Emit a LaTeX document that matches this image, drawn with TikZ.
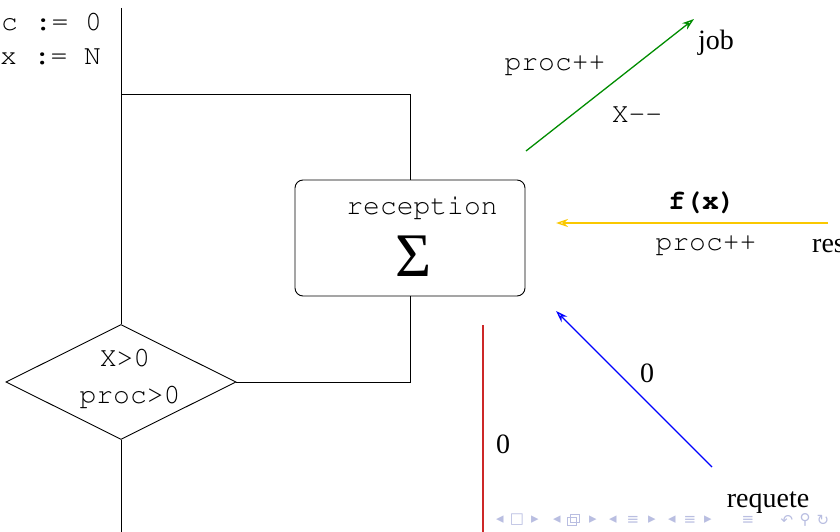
\documentclass[tikz,border=0pt]{standalone}
\usepackage{fontspec}
\setmainfont{Liberation Serif}
\setmonofont{Liberation Mono}
\newfontfamily\navfont{DejaVu Sans}
\newcommand\courierfam{\fontencoding{T1}\fontfamily{pcr}\selectfont}
\usetikzlibrary{arrows.meta,positioning,shapes.geometric}

\definecolor{arcgreen}{RGB}{0,140,0}
\definecolor{arcyellow}{RGB}{250,200,0}
\definecolor{arcred}{RGB}{205,40,40}
\definecolor{navcol}{RGB}{185,190,225}

\begin{document}
\begin{tikzpicture}[x=1pt, y=-1pt,
    every node/.style={inner sep=0pt, font=\fontsize{28}{39}\selectfont},
    code/.style={font=\courierfam\fontsize{28}{39}\selectfont},
    wire/.style={line width=0.9pt},
    chbox/.style={draw, rounded corners=8pt, minimum width=230pt, minimum height=116pt, line width=0.9pt},
    test/.style={draw, diamond, minimum width=230pt, minimum height=115pt, line width=0.9pt},
    arc/.style={line width=1.3pt, -{Stealth[open, fill=white, length=12pt, width=8pt]}},
    nav/.style={text=navcol, font=\navfont\fontsize{15}{15}\selectfont}
]
\useasboundingbox (0,0) rectangle (840,532);

% Initialisation
\node[code, anchor=west] (initc) at (1,22) {c := 0};
\node[code, anchor=west] (initx) at (0,57) {x := N};

% Loop
\coordinate (top) at (121,8);
\coordinate (join) at (121,94);
\coordinate (bottom) at (121,532);
\node[chbox] (recep) at (410,238) {};
\node[code] (recepl) at (422,208) {reception};
\node[font=\fontsize{62}{62}\selectfont] (sum) at (414,256) {Σ};
\node[test] (guard) at (121,382) {};
\node[code] (guardx) at (125,358) {X>0};
\node[code] (guardp) at (130,397) {proc>0};

\draw[wire] (top) -- (guard.north);
\draw[wire] (guard.south) -- (bottom);
\draw[wire] (join) -| (recep.north);
\draw[wire] (recep.south) |- (guard.east);

% Arcs
\coordinate (g0) at (526,151);
\coordinate (g1) at (694,19);
\draw[arc, arcgreen] (g0) -- (g1);
\node[code] (gup) at (555,66) {proc++};
\node[code] (gdown) at (637,115) {X-{}-};
\node (job) at (716,43) {job};

\coordinate (y0) at (828,223);
\coordinate (y1) at (556,223);
\draw[arc, arcyellow] (y0) -- (y1);
\node[code] (fx) at (702,202) {\bfseries f(x)};
\node[code] (yup) at (706,246) {proc++};
\node[anchor=west] (res) at (812,246) {res};

\coordinate (r0) at (483,325);
\coordinate (r1) at (483,532);
\draw[line width=1.3pt, arcred] (r0) -- (r1);
\node (rz) at (503,444) {0};

\coordinate (b0) at (712,467);
\coordinate (b1) at (556,311);
\draw[arc, blue] (b0) -- (b1);
\node (bz) at (647,373) {0};
\node (req) at (768,503) {requete};

% Navigation symbols
\node[nav] (nav1) at (500,520) {◂};
\node[nav] (nav2) at (517,520) {□};
\node[nav] (nav3) at (535,520) {▸};
\node[nav] (nav4) at (557,520) {◂};
\draw[navcol, line width=0.8pt] (567,517) rectangle (576,525) (570,514) rectangle (579,522);
\node[nav] (nav6) at (593,520) {▸};
\node[nav] (nav7) at (613,520) {◂};
\node[nav] (nav8) at (633,520) {≡};
\node[nav] (nav9) at (652,520) {▸};
\node[nav] (nav10) at (672,520) {◂};
\node[nav] (nav11) at (690,520) {≡};
\node[nav] (nav12) at (708,520) {▸};
\node[nav] (nav13) at (748,520) {≡};
\node[nav] (nav14) at (787,520) {↶};
\node[nav] (nav15) at (805,520) {⚲};
\node[nav] (nav16) at (823,520) {↻};

\end{tikzpicture}
\end{document}
